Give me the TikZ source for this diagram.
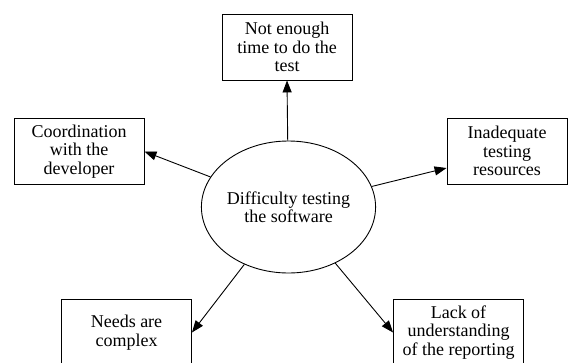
\documentclass[tikz,border=0pt]{standalone}
\usepackage{fontspec}
\setmainfont{Liberation Serif}
\usetikzlibrary{arrows.meta,shapes.geometric}
\begin{document}
\begin{tikzpicture}[x=1pt,y=-1pt,
  txt/.style={align=center,font=\fontsize{18}{18.5}\selectfont},
  box/.style={txt,draw,line width=0.9pt,minimum width=130pt,minimum height=66pt,inner sep=2pt},
  hub/.style={txt,draw,line width=0.9pt,ellipse,minimum width=159pt,minimum height=132pt,inner sep=0pt},
  arr/.style={line width=0.9pt,-{Triangle[length=12pt,width=9pt]}}]
\useasboundingbox (0,0) rectangle (570,362);
\node[hub] (c) at (288.5,207) {Difficulty testing\\the software};
\node[box] (top) at (287,47) {Not enough\\time to do the\\test};
\node[box] (left) at (79,151.5) {Coordination\\with the\\developer};
\node[box,minimum width=120pt] (right) at (507,151) {Inadequate\\testing\\resources};
\node[box,minimum height=67pt] (bl) at (126.5,332.5) {Needs are\\complex};
\node[box,minimum height=67pt] (br) at (458.5,332.5) {Lack of\\understanding\\of the reporting};
\coordinate (rt) at ([yshift=-17pt]right.west);
\draw[arr] (c) -- (top.south);
\draw[arr] (c) -- (left.east);
\draw[arr] (c) -- (rt);
\draw[arr] (c) -- (bl.east);
\draw[arr] (c) -- (br.west);
\end{tikzpicture}
\end{document}
